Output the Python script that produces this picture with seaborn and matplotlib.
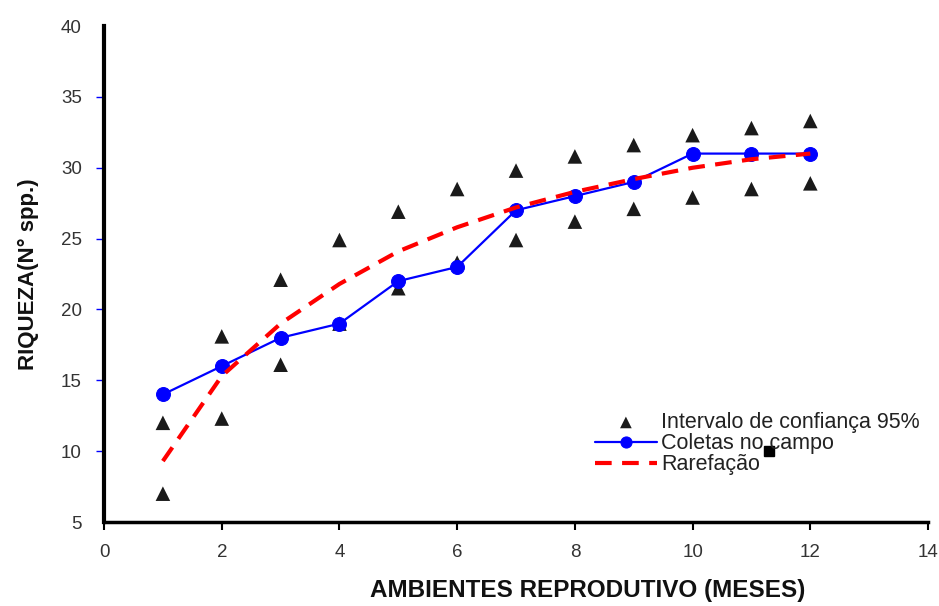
import matplotlib
matplotlib.use("Agg")
import matplotlib.pyplot as plt
import seaborn as sns
import pandas as pd

meses = [1, 2, 3, 4, 5, 6, 7, 8, 9, 10, 11, 12]
coletas = [14, 16, 18, 19, 22, 23, 27, 28, 29, 31, 31, 31]
ic_sup = [12.0, 18.1, 22.1, 24.9, 26.9, 28.5, 29.8, 30.8, 31.6, 32.3, 32.8, 33.3]
ic_inf = [7.0, 12.3, 16.1, 19.0, 21.5, 23.3, 24.9, 26.2, 27.1, 27.9, 28.5, 28.9]
rarefacao = [9.3, 15.3, 19.0, 21.8, 24.1, 25.8, 27.2, 28.3, 29.2, 30.0, 30.6, 31.0]
marca_x = [11.3]
marca_y = [10.0]

sns.set_theme(style="white")
plt.rcParams['font.family'] = ['Liberation Sans', 'DejaVu Sans']

fig = plt.figure(figsize=(9.39, 6.06), dpi=100)
ax = fig.add_axes([0.1108, 0.1386, 0.8775, 0.8184])

ic_df = pd.DataFrame({"x": meses + meses, "y": ic_sup + ic_inf})
sns.scatterplot(data=ic_df, x="x", y="y", marker="^", s=110, color="#1a1a1a",
                edgecolor="none", ax=ax, zorder=2, label="Intervalo de confiança 95%")
sns.lineplot(x=meses, y=coletas, color="#0000ff", marker="o", markersize=10,
             markeredgecolor="#0000ff", linewidth=1.6, ax=ax, zorder=3,
             label="Coletas no campo")
sns.lineplot(x=meses, y=rarefacao, color="#ff0000", linewidth=3, ax=ax, zorder=4,
             label="Rarefação")
ax.lines[-1].set_dashes([4, 2.5])
ax.plot(marca_x, marca_y, marker="s", color="black", markersize=7, linestyle="none", zorder=5)

ax.set_xlim(0, 14)
ax.set_ylim(5, 40)
ax.set_xticks([0, 2, 4, 6, 8, 10, 12, 14])
ax.set_yticks([5, 10, 15, 20, 25, 30, 35, 40])

for s in ["top", "right"]:
    ax.spines[s].set_visible(False)
ax.spines["left"].set_color("black")
ax.spines["left"].set_linewidth(3)
ax.spines["bottom"].set_color("black")
ax.spines["bottom"].set_linewidth(2.5)

ax.tick_params(axis="y", direction="out", length=6, width=1, color="#0000ff",
               labelsize=13.5, labelcolor="#333333", left=True, pad=10)
ax.tick_params(axis="x", direction="out", length=6, width=1.5, color="black",
               labelsize=13.5, labelcolor="#333333", bottom=True, pad=10)
yt = ax.yaxis.get_major_ticks()
yt[0].tick1line.set_visible(False)
yt[-1].tick1line.set_visible(False)

ax.set_xlabel("AMBIENTES REPRODUTIVO (MESES)", fontsize=17.5, fontweight="bold",
              color="#111111")
ax.xaxis.set_label_coords(0.587, -0.115)
ax.set_ylabel("RIQUEZA(N° spp.)", fontsize=16, fontweight="bold",
              color="#111111", labelpad=16)

leg = ax.legend(loc="upper left", bbox_to_anchor=(0.585, 0.239), frameon=False,
                fontsize=15.5, handlelength=2.9, handletextpad=0.2, labelspacing=0.0,
                borderaxespad=0, markerscale=0.8)
for t in leg.get_texts():
    t.set_color("#222222")

fig.savefig("out.png", dpi=100)
